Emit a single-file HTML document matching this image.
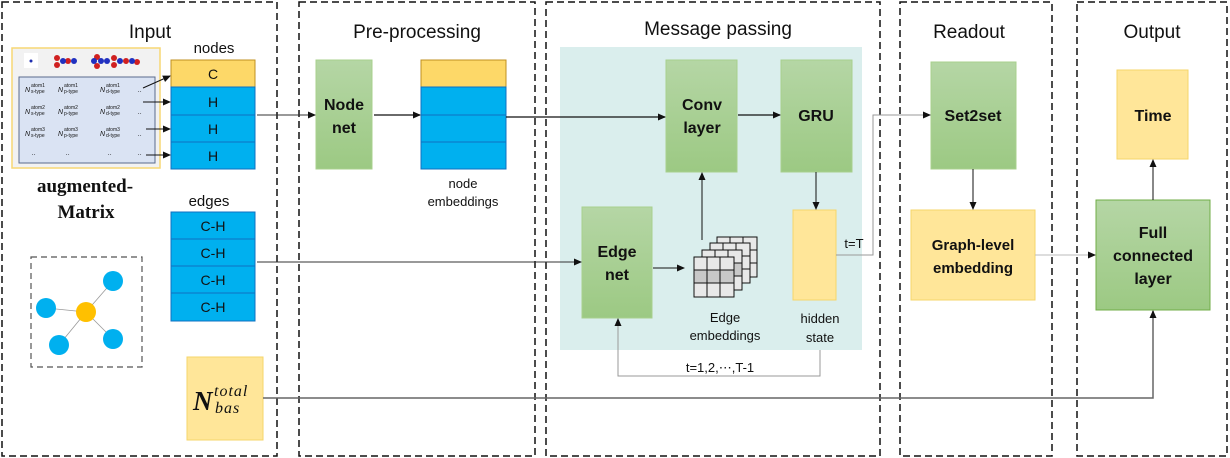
<!DOCTYPE html>
<html><head><meta charset="utf-8"><style>
body{margin:0;background:#fff}
svg{display:block}
text{font-family:"Liberation Sans",sans-serif;fill:#111}
.b{font-weight:bold}
</style></head><body>
<svg width="1230" height="458" viewBox="0 0 1230 458" xmlns="http://www.w3.org/2000/svg">
<defs>
<linearGradient id="g" x1="0" y1="0" x2="0" y2="1"><stop offset="0" stop-color="#b5d6a5"/><stop offset="1" stop-color="#9cc983"/></linearGradient>
<marker id="a" markerWidth="8" markerHeight="8" refX="7" refY="4" orient="auto" markerUnits="userSpaceOnUse"><path d="M0,0.5 L8,4 L0,7.5z" fill="#111"/></marker>
</defs>
<g fill="none" stroke="#111" stroke-width="1.5" stroke-dasharray="7,4">
<rect x="2" y="2" width="275" height="454"/>
<rect x="299" y="2" width="236" height="454"/>
<rect x="546" y="2" width="334" height="454"/>
<rect x="900" y="2" width="152" height="454"/>
<rect x="1077" y="2" width="150" height="454"/>
</g>
<g font-size="19" text-anchor="middle">
<text x="150" y="38">Input</text>
<text x="417" y="38">Pre-processing</text>
<text x="718" y="35">Message passing</text>
<text x="969" y="38">Readout</text>
<text x="1152" y="38">Output</text>
</g>
<rect x="560" y="47" width="302" height="303" fill="#daeeed"/>
<!-- matrix -->
<rect x="12" y="48" width="148" height="120" fill="#f2f2f2" stroke="#f7d774" stroke-width="1.5"/>
<rect x="24" y="53" width="14" height="15" fill="#fff"/><circle cx="31" cy="61" r="1.5" fill="#2030b0"/>
<g fill="#d02020"><circle cx="57" cy="58" r="3"/><circle cx="57" cy="65" r="3"/><circle cx="68" cy="61" r="3"/><circle cx="97" cy="57" r="3"/><circle cx="97" cy="66" r="3"/><circle cx="114" cy="58" r="3"/><circle cx="114" cy="65" r="3"/><circle cx="126" cy="61" r="3"/><circle cx="137" cy="62" r="3"/></g>
<g fill="#2030c0"><circle cx="63" cy="61" r="3"/><circle cx="74" cy="61" r="3"/><circle cx="94" cy="61" r="3"/><circle cx="101" cy="61" r="3"/><circle cx="107" cy="61" r="3"/><circle cx="120" cy="61" r="3"/><circle cx="132" cy="61" r="3"/></g>
<rect x="19" y="77" width="136" height="86" fill="#dae3f3" stroke="#5a6b8c" stroke-width="1"/>
<g font-family="Liberation Serif" font-size="7" fill="#555" font-style="italic">
<text x="25" y="92">N</text><text x="58" y="92">N</text><text x="100" y="92">N</text><text x="138" y="92">..</text>
<text x="25" y="114">N</text><text x="58" y="114">N</text><text x="100" y="114">N</text><text x="138" y="114">..</text>
<text x="25" y="136">N</text><text x="58" y="136">N</text><text x="100" y="136">N</text><text x="138" y="136">..</text>
<text x="32" y="155">..</text><text x="66" y="155">..</text><text x="108" y="155">..</text><text x="138" y="155">..</text>
</g>
<g font-family="Liberation Serif" font-size="5" fill="#666">
<text x="31" y="87">atom1</text><text x="31" y="93">s-type</text><text x="64" y="87">atom1</text><text x="64" y="93">p-type</text><text x="106" y="87">atom1</text><text x="106" y="93">d-type</text>
<text x="31" y="109">atom2</text><text x="31" y="115">s-type</text><text x="64" y="109">atom2</text><text x="64" y="115">p-type</text><text x="106" y="109">atom2</text><text x="106" y="115">d-type</text>
<text x="31" y="131">atom3</text><text x="31" y="137">s-type</text><text x="64" y="131">atom3</text><text x="64" y="137">p-type</text><text x="106" y="131">atom3</text><text x="106" y="137">d-type</text>
</g>
<g font-weight="bold" font-size="19" text-anchor="middle"><text x="85" y="192" style="font-family:'Liberation Serif'">augmented-</text><text x="86" y="218" style="font-family:'Liberation Serif'">Matrix</text></g>
<text x="214" y="53" font-size="15" text-anchor="middle">nodes</text>
<rect x="171" y="60" width="84" height="27" fill="#fdd868" stroke="#c09020"/>
<g fill="#00b0ef" stroke="#1070c0"><rect x="171" y="87" width="84" height="28"/><rect x="171" y="115" width="84" height="27"/><rect x="171" y="142" width="84" height="27"/></g>
<g font-size="14" text-anchor="middle"><text x="213" y="79">C</text><text x="213" y="107">H</text><text x="213" y="134">H</text><text x="213" y="161">H</text></g>
<g stroke="#111" stroke-width="1" marker-end="url(#a)"><line x1="143" y1="88" x2="170" y2="76"/><line x1="143" y1="102" x2="170" y2="102"/><line x1="146" y1="129" x2="170" y2="129"/><line x1="146" y1="155" x2="170" y2="155"/></g>
<text x="209" y="206" font-size="15" text-anchor="middle">edges</text>
<g fill="#00b0ef" stroke="#1070c0"><rect x="171" y="212" width="84" height="27"/><rect x="171" y="239" width="84" height="27"/><rect x="171" y="266" width="84" height="27"/><rect x="171" y="293" width="84" height="28"/></g>
<g font-size="14" text-anchor="middle"><text x="213" y="231">C-H</text><text x="213" y="258">C-H</text><text x="213" y="285">C-H</text><text x="213" y="312">C-H</text></g>
<rect x="31" y="257" width="111" height="110" fill="none" stroke="#555" stroke-width="1.2" stroke-dasharray="6,4"/>
<g stroke="#999" stroke-width="0.8"><line x1="86" y1="312" x2="113" y2="281"/><line x1="86" y1="312" x2="46" y2="308"/><line x1="86" y1="312" x2="59" y2="345"/><line x1="86" y1="312" x2="113" y2="339"/></g>
<g fill="#00b0ef"><circle cx="113" cy="281" r="10"/><circle cx="46" cy="308" r="10"/><circle cx="59" cy="345" r="10"/><circle cx="113" cy="339" r="10"/></g>
<circle cx="86" cy="312" r="10" fill="#ffc000"/>
<rect x="187" y="357" width="76" height="83" fill="#ffe699" stroke="#f5d56a"/>
<text x="193" y="410" font-size="27" font-weight="bold" font-style="italic" style="font-family:'Liberation Serif'">N</text>
<text x="214" y="396" font-size="16" font-style="italic" style="font-family:'Liberation Serif';letter-spacing:1px">total</text>
<text x="215" y="413" font-size="16" font-style="italic" style="font-family:'Liberation Serif';letter-spacing:1px">bas</text>
<!-- pre-processing -->
<rect x="316" y="60" width="56" height="109" fill="url(#g)" stroke="#a8d08d"/>
<g font-size="16" class="b" text-anchor="middle"><text x="344" y="110">Node</text><text x="344" y="133">net</text></g>
<rect x="421" y="60" width="85" height="27" fill="#fdd868" stroke="#c09020"/>
<g fill="#00b0ef" stroke="#1070c0"><rect x="421" y="87" width="85" height="28"/><rect x="421" y="115" width="85" height="27"/><rect x="421" y="142" width="85" height="27"/></g>
<g font-size="13" text-anchor="middle"><text x="463" y="188">node</text><text x="463" y="206">embeddings</text></g>
<!-- message passing -->
<rect x="666" y="60" width="71" height="112" fill="url(#g)" stroke="#a8d08d"/>
<g font-size="16" class="b" text-anchor="middle"><text x="702" y="110">Conv</text><text x="702" y="133">layer</text></g>
<rect x="781" y="60" width="71" height="112" fill="url(#g)" stroke="#a8d08d"/>
<text x="816" y="121" font-size="16" class="b" text-anchor="middle">GRU</text>
<rect x="582" y="207" width="70" height="111" fill="url(#g)" stroke="#a8d08d"/>
<g font-size="16" class="b" text-anchor="middle"><text x="617" y="257">Edge</text><text x="617" y="280">net</text></g>
<rect x="793" y="210" width="43" height="90" fill="#ffe699" stroke="#f5d56a"/>
<g font-size="13" text-anchor="middle"><text x="820" y="323">hidden</text><text x="820" y="342">state</text><text x="725" y="322">Edge</text><text x="725" y="340">embeddings</text></g>
<g stroke="#111" stroke-width="1">
<g transform="translate(717,237)"><rect width="40" height="40" fill="#e8e8e8"/><path d="M13 0v40M26 0v40M0 13h40M0 26h40" /></g>
<g transform="translate(710,243)"><rect width="40" height="40" fill="#e8e8e8"/><path d="M13 0v40M26 0v40M0 13h40M0 26h40" /></g>
<g transform="translate(702,250)"><rect width="40" height="40" fill="#e8e8e8"/><rect x="0" y="13" width="40" height="13" fill="#c8c8c8"/><path d="M13 0v40M26 0v40M0 13h40M0 26h40" /></g>
<g transform="translate(694,257)"><rect width="40" height="40" fill="#e8e8e8"/><rect x="0" y="13" width="40" height="13" fill="#c8c8c8"/><path d="M13 0v40M26 0v40M0 13h40M0 26h40" /></g>
</g>
<text x="854" y="248" font-size="13" text-anchor="middle">t=T</text>
<text x="720" y="372" font-size="13" text-anchor="middle">t=1,2,⋯,T-1</text>
<!-- readout / output -->
<rect x="931" y="62" width="85" height="107" fill="url(#g)" stroke="#a8d08d"/>
<text x="973" y="121" font-size="16" class="b" text-anchor="middle">Set2set</text>
<rect x="911" y="210" width="124" height="90" fill="#ffe699" stroke="#f5d56a"/>
<g font-size="15" class="b" text-anchor="middle"><text x="973" y="250">Graph-level</text><text x="973" y="273">embedding</text></g>
<rect x="1117" y="70" width="71" height="89" fill="#ffe699" stroke="#f5d56a"/>
<text x="1153" y="121" font-size="16" class="b" text-anchor="middle">Time</text>
<rect x="1096" y="200" width="114" height="110" fill="url(#g)" stroke="#70ad47"/>
<g font-size="16" class="b" text-anchor="middle"><text x="1153" y="238">Full</text><text x="1153" y="261">connected</text><text x="1153" y="284">layer</text></g>
<!-- connectors -->
<g fill="none" stroke="#333" stroke-width="1">
<line x1="257" y1="115" x2="315" y2="115" marker-end="url(#a)"/>
<line x1="374" y1="115" x2="420" y2="115" marker-end="url(#a)" stroke="#111" stroke-width="1.3"/>
<line x1="506" y1="117" x2="665" y2="117" marker-end="url(#a)" stroke="#111" stroke-width="1.3"/>
<line x1="738" y1="115" x2="780" y2="115" marker-end="url(#a)" stroke="#111" stroke-width="1.3"/>
<line x1="816" y1="172" x2="816" y2="209" marker-end="url(#a)" stroke="#111"/>
<line x1="702" y1="240" x2="702" y2="173" marker-end="url(#a)" stroke="#111"/>
<line x1="257" y1="262" x2="581" y2="262" marker-end="url(#a)"/>
<line x1="653" y1="268" x2="684" y2="268" marker-end="url(#a)" stroke="#111"/>
<polyline points="820,350 820,376 618,376 618,319" stroke="#999" marker-end="url(#a)"/>
<polyline points="836,255 873,255 873,115 930,115" stroke="#999" marker-end="url(#a)"/>
<line x1="973" y1="169" x2="973" y2="209" marker-end="url(#a)" stroke="#111"/>
<line x1="1035" y1="255" x2="1095" y2="255" stroke="#bbb" marker-end="url(#a)"/>
<line x1="1153" y1="200" x2="1153" y2="160" marker-end="url(#a)" stroke="#111"/>
<polyline points="263,398 1153,398 1153,311" stroke="#666" stroke-width="1.5" marker-end="url(#a)"/>
</g>
</svg>
</body></html>
